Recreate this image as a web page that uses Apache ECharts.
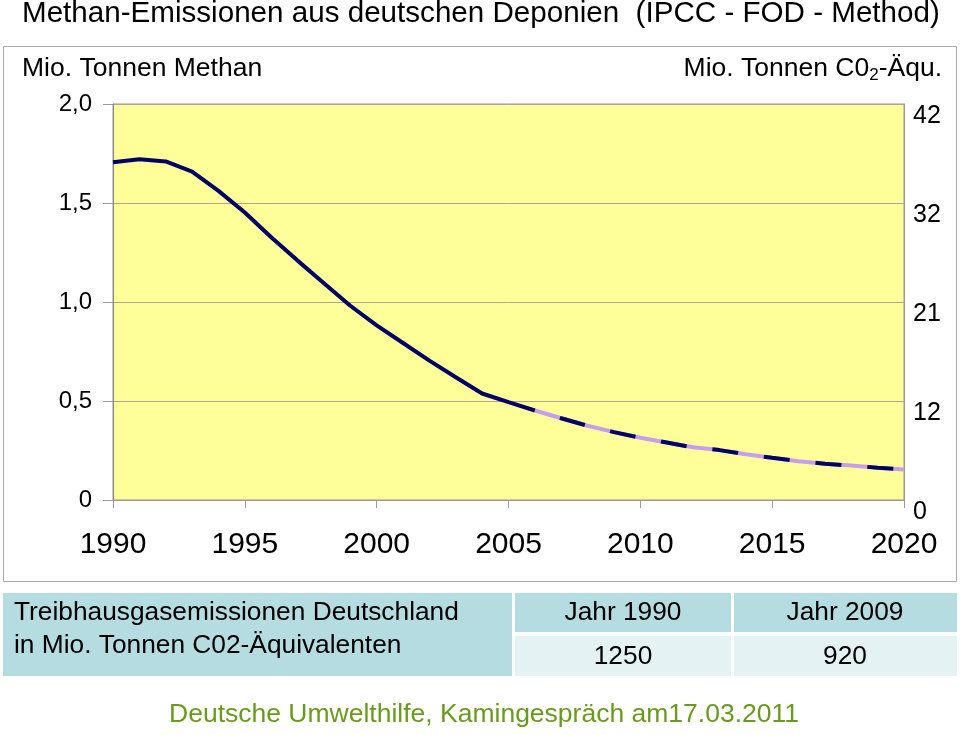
<!DOCTYPE html>
<html>
<head>
<meta charset="utf-8">
<script src="https://cdn.jsdelivr.net/npm/echarts@6/dist/echarts.min.js"></script>
<style>html,body{margin:0;padding:0;background:#fff}#c{width:960px;height:735px}</style>
</head>
<body>
<div id="c"></div>
<script>
const years = [1990,1991,1992,1993,1994,1995,1996,1997,1998,1999,2000,2001,2002,2003,2004,2005,2006,2007,2008,2009,2010,2011,2012,2013,2014,2015,2016,2017,2018,2019,2020];
const methane = [1.706,1.721,1.710,1.659,1.561,1.452,1.327,1.209,1.095,0.981,0.882,0.793,0.704,0.620,0.538,0.494,0.452,0.413,0.375,0.343,0.314,0.290,0.266,0.252,0.231,0.213,0.196,0.183,0.174,0.163,0.154];
const projectionStart = 2006;
const leftTicks = {0:'0',0.5:'0,5',1:'1,0',1.5:'1,5',2:'2,0'};
const rightTicks = {0:'0',0.5:'12',1:'21',1.5:'32',2:'42'};
const tableHeader = ['Jahr 1990','Jahr 2009'];
const tableValues = ['1250','920'];

const FONT = '"Liberation Sans", Arial, Helvetica, sans-serif';
const hist = years.map((y,i)=> y<=projectionStart ? [y,methane[i]] : [y,null]);
const proj = years.map((y,i)=> y>=projectionStart ? [y,methane[i]] : [y,null]);

const chart = echarts.init(document.getElementById('c'));
chart.setOption({
  backgroundColor:'#fff',
  animation:false,
  textStyle:{fontFamily:FONT},
  grid:{left:113,right:56,top:104,bottom:235,show:true,backgroundColor:'#ffff99',borderColor:'#999',borderWidth:1},
  xAxis:{type:'value',min:1990,max:2020,interval:5,
    axisLine:{show:true,lineStyle:{color:'#999'}},
    axisTick:{show:true,length:8,lineStyle:{color:'#999'}},
    splitLine:{show:false},
    axisLabel:{fontSize:30,color:'#000',margin:30,fontFamily:FONT,formatter:v=>String(v)}},
  yAxis:[
    {type:'value',min:0,max:2,interval:0.5,position:'left',
     axisLine:{show:true,lineStyle:{color:'#888'}},
     axisTick:{show:true,length:10,lineStyle:{color:'#999'}},
     splitLine:{show:true,lineStyle:{color:'#aaa69a',width:1}},
     axisLabel:{fontSize:24,color:'#000',margin:21,fontFamily:FONT,formatter:v=>leftTicks[v]}},
    {type:'value',min:0,max:2,interval:0.5,position:'right',
     axisLine:{show:true,lineStyle:{color:'#999'}},
     axisTick:{show:false},
     splitLine:{show:false},
     axisLabel:{fontSize:25,color:'#000',margin:9,fontFamily:FONT,verticalAlign:'top',formatter:v=>rightTicks[v]}}
  ],
  series:[
    {type:'line',data:hist,showSymbol:false,symbol:'none',connectNulls:false,
     lineStyle:{color:'#000066',width:4},z:3},
    {type:'line',data:proj,showSymbol:false,symbol:'none',
     lineStyle:{color:'#c69ef0',width:4},z:2},
    {type:'line',data:proj,showSymbol:false,symbol:'none',
     lineStyle:{color:'#000066',width:4,type:[26,26],dashOffset:26},z:4}
  ],
  graphic:[
    {type:'rect',shape:{x:3.5,y:46.5,width:953,height:535},style:{fill:'none',stroke:'#aaa',lineWidth:1},z:-10,silent:true},
    {type:'text',left:22,top:-1,style:{text:'Methan-Emissionen aus deutschen Deponien  (IPCC - FOD - Method)',font:'29.6px '+FONT,fill:'#000'}},
    {type:'text',left:22,top:55,style:{text:'Mio. Tonnen Methan',font:'26.5px '+FONT,fill:'#000'}},
    {type:'text',right:18,top:55,style:{text:'Mio. Tonnen C0{sub|2}-Äqu.',font:'26.5px '+FONT,fill:'#000',
      rich:{sub:{fontSize:17,fontFamily:FONT,verticalAlign:'bottom',padding:[14,0,0,0]}}}},
    {type:'rect',shape:{x:3,y:593,width:509,height:83},style:{fill:'#b5dde1'}},
    {type:'rect',shape:{x:515,y:593,width:216,height:39},style:{fill:'#b5dde1'}},
    {type:'rect',shape:{x:734,y:593,width:223,height:39},style:{fill:'#b5dde1'}},
    {type:'rect',shape:{x:515,y:636,width:216,height:40},style:{fill:'#e4f2f4'}},
    {type:'rect',shape:{x:734,y:636,width:223,height:40},style:{fill:'#e4f2f4'}},
    {type:'text',x:14,y:613,style:{text:'Treibhausgasemissionen Deutschland',font:'26.3px '+FONT,fill:'#000',textVerticalAlign:'middle'}},
    {type:'text',x:14,y:646,style:{text:'in Mio. Tonnen C02-Äquivalenten',font:'26.3px '+FONT,fill:'#000',textVerticalAlign:'middle'}},
    {type:'text',x:623,y:613,style:{text:tableHeader[0],font:'26.3px '+FONT,fill:'#000',textAlign:'center',textVerticalAlign:'middle'}},
    {type:'text',x:845,y:613,style:{text:tableHeader[1],font:'26.3px '+FONT,fill:'#000',textAlign:'center',textVerticalAlign:'middle'}},
    {type:'text',x:623,y:657,style:{text:tableValues[0],font:'26.3px '+FONT,fill:'#000',textAlign:'center',textVerticalAlign:'middle'}},
    {type:'text',x:845,y:657,style:{text:tableValues[1],font:'26.3px '+FONT,fill:'#000',textAlign:'center',textVerticalAlign:'middle'}},
    {type:'text',x:484,y:715,style:{text:'Deutsche Umwelthilfe, Kamingespräch am17.03.2011',font:'26.5px '+FONT,fill:'#6a9a1c',textAlign:'center',textVerticalAlign:'middle'}}
  ]
});
</script>
</body>
</html>
